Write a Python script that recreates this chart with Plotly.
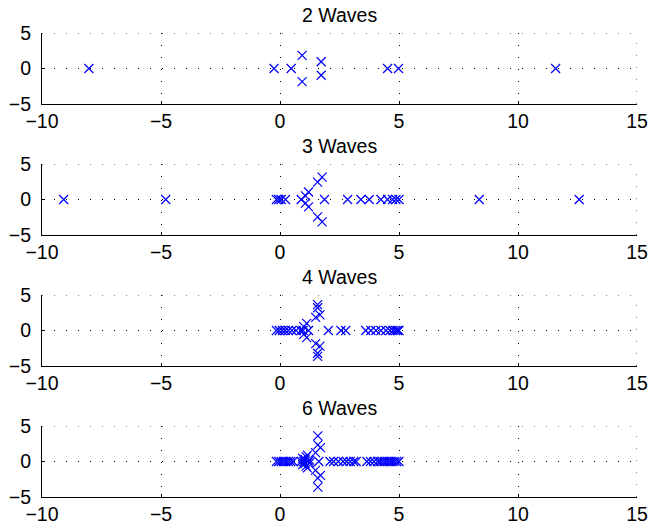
import plotly.graph_objects as go
from plotly.subplots import make_subplots

# Pole locations (real part, imaginary part) for each wave count
titles = ["2 Waves", "3 Waves", "4 Waves", "6 Waves"]

re_2 = [-8.03, -0.25, 0.47, 0.93, 0.93, 1.73, 1.73, 4.52, 4.98, 11.58]
im_2 = [0, 0, 0, 1.85, -1.85, 0.95, -0.95, 0, 0, 0]

re_3 = [-9.09, -4.80, -0.15, -0.05, 0.05, 0.23, 0.89, 1.07, 1.07, 1.20, 1.20,
        1.58, 1.58, 1.77, 1.77, 1.87, 2.84, 3.40, 3.75, 4.24, 4.52, 4.73,
        4.87, 5.00, 8.37, 12.57]
im_3 = [0, 0, 0, 0, 0, 0, 0, 0.50, -0.50, 1.05, -1.05,
        2.45, -2.45, 3.15, -3.15, 0, 0, 0, 0, 0, 0, 0,
        0, 0, 0, 0]

re_4 = [-0.15, -0.03, 0.10, 0.22, 0.35, 0.50, 0.68, 0.88, 0.97, 1.00, 1.00,
        1.12, 1.12, 1.20, 1.50, 1.50, 1.68, 1.68, 1.58, 1.58, 1.58, 1.58,
        2.03, 2.56, 2.76, 3.60, 3.82, 4.03, 4.24, 4.45, 4.62, 4.75, 4.85,
        4.93, 5.00]
im_4 = [0, 0, 0, 0, 0, 0, 0, 0, 0, 0.55, -0.55,
        1.00, -1.00, 0, 1.85, -1.85, 2.20, -2.20, 3.20, -3.20, 3.65, -3.65,
        0, 0, 0, 0, 0, 0, 0, 0, 0, 0, 0,
        0, 0]

re_6 = [-0.15, -0.05, 0.05, 0.15, 0.25, 0.35, 0.45, 0.55, 0.90, 1.00, 0.95,
        0.95, 1.05, 1.05, 1.10, 1.10, 1.15, 1.15, 1.20, 1.25, 1.25, 1.49,
        1.49, 1.70, 1.70, 1.59, 1.59, 1.59, 1.59, 1.63, 2.10, 2.25, 2.45,
        2.65, 2.80, 2.95, 3.10, 3.20, 3.65, 3.80, 3.95, 4.10, 4.20, 4.30,
        4.40, 4.50, 4.60, 4.70, 4.80, 4.90, 5.00]
im_6 = [0, 0, 0, 0, 0, 0, 0, 0, 0, 0, 0.45,
        -0.45, 0.30, -0.30, 0.65, -0.65, 0.90, -0.90, 0, 0.20, -0.20, 1.26,
        -1.26, 1.96, -1.96, 2.34, -2.34, 3.60, -3.60, 0, 0, 0, 0,
        0, 0, 0, 0, 0, 0, 0, 0, 0, 0, 0,
        0, 0, 0, 0, 0, 0, 0]

series = [(re_2, im_2), (re_3, im_3), (re_4, im_4), (re_6, im_6)]

x_ticks = [-10, -5, 0, 5, 10, 15]
y_ticks = [-5, 0, 5]

FONT = "Liberation Sans, Arial, Helvetica, sans-serif"
FSIZE = 19.5
BLUE = "#0000FF"
GRID_DASH = "1px,11px"

W, H = 652, 531
M_L, M_R, M_T, M_B = 42, 15, 33, 34
plot_h = H - M_T - M_B
panel_h = 71
panel_step = 131

fig = make_subplots(rows=4, cols=1)

for i, (re, im) in enumerate(series):
    row = i + 1
    fig.add_trace(
        go.Scatter(
            x=re, y=im, mode="markers",
            marker=dict(symbol="x-thin", size=9, color=BLUE,
                        line=dict(color=BLUE, width=1.2)),
            showlegend=False, cliponaxis=False,
        ),
        row=row, col=1,
    )
    top = 1 - (panel_step * i) / plot_h
    bottom = top - panel_h / plot_h
    sfx = "" if i == 0 else str(row)
    fig.layout["yaxis" + sfx].domain = [bottom, top]
    fig.layout["xaxis" + sfx].domain = [0, 1]
    fig.add_annotation(
        text=titles[i], x=0.5, y=top, xref="paper", yref="paper",
        xanchor="center", yanchor="bottom", yshift=5, showarrow=False,
        font=dict(family=FONT, size=FSIZE, color="#000000"),
    )
    # dotted grid along the upper and right edges of the box
    grid_line = dict(color="#000000", width=1, dash=GRID_DASH)
    fig.add_shape(type="line", xref=f"x{sfx} domain", yref=f"y{sfx}",
                  x0=0, x1=1, y0=y_ticks[-1], y1=y_ticks[-1], line=grid_line)
    fig.add_shape(type="line", xref=f"x{sfx}", yref=f"y{sfx} domain",
                  x0=x_ticks[-1], x1=x_ticks[-1], y0=0, y1=1, line=grid_line)

axis_common = dict(
    showline=True, linecolor="#000000", linewidth=1, mirror=False,
    ticks="inside", ticklen=3, tickcolor="#000000",
    showgrid=True, gridcolor="#000000", gridwidth=1, griddash=GRID_DASH,
    zeroline=False, automargin=False,
    tickfont=dict(family=FONT, size=FSIZE, color="#000000"),
)

fig.update_xaxes(range=[-10, 15], tickvals=x_ticks, ticklabelstandoff=0,
                 **axis_common)
fig.update_yaxes(range=[-5, 5], tickvals=y_ticks, ticklabelstandoff=6,
                 **axis_common)

fig.update_layout(
    width=W, height=H,
    margin=dict(l=M_L, r=M_R, t=M_T, b=M_B, autoexpand=False),
    paper_bgcolor="#FFFFFF", plot_bgcolor="#FFFFFF",
    font=dict(family=FONT, size=FSIZE, color="#000000"),
)

fig.write_html("out.html")
